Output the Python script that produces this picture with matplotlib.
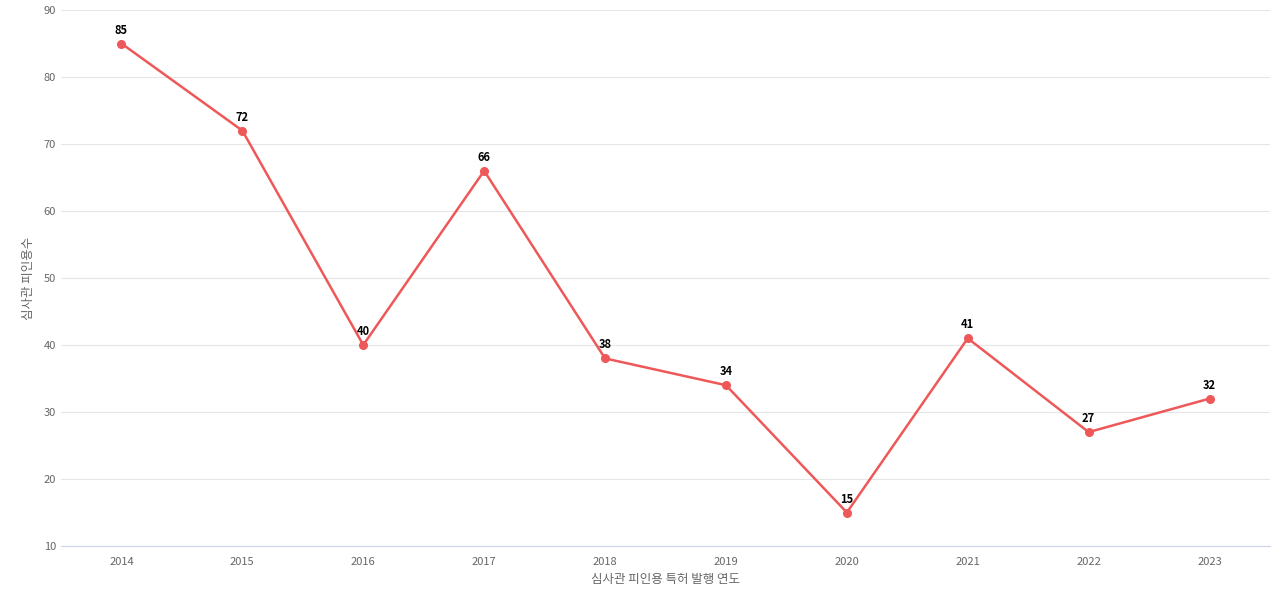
import matplotlib
matplotlib.use("Agg")
from matplotlib import pyplot as plt

years = ["2014", "2015", "2016", "2017", "2018", "2019", "2020", "2021", "2022", "2023"]
counts = [85, 72, 40, 66, 38, 34, 15, 41, 27, 32]
y_ticks = [10, 20, 30, 40, 50, 60, 70, 80, 90]

plt.rcParams["font.family"] = ["Noto Sans CJK KR", "DejaVu Sans"]

fig = plt.figure(figsize=(12.8, 6), dpi=100)
ax = fig.add_axes([61 / 1280, 1 - 546 / 600, 1209 / 1280, 536 / 600])

x = list(range(len(years)))
ax.plot(x, counts, color="#ee5858", linewidth=1.8, marker="o", markersize=5.5, zorder=3)
for xi, v in zip(x, counts):
    ax.annotate(str(v), (xi, v), xytext=(0, 5), textcoords="offset points",
                ha="center", va="bottom", fontsize=8, fontweight="bold", color="black")

ax.set_xlim(-0.5, len(years) - 0.5)
ax.set_ylim(10, 90)
ax.set_xticks(x)
ax.set_xticklabels(years)
ax.set_yticks(y_ticks)
ax.tick_params(axis="both", length=0, labelsize=8, labelcolor="#666666")
ax.tick_params(axis="x", pad=8)
ax.grid(axis="y", color="#e6e6e6", linewidth=0.8)
ax.set_axisbelow(True)
for side in ["top", "right", "left"]:
    ax.spines[side].set_visible(False)
ax.spines["bottom"].set_color("#ccd6eb")

ax.set_xlabel("심사관 피인용 특허 발행 연도", fontsize=9, color="#666666", labelpad=4)
ax.set_ylabel("심사관 피인용수", fontsize=9, color="#666666", labelpad=6)

plt.savefig("out.png")
plt.close(fig)
